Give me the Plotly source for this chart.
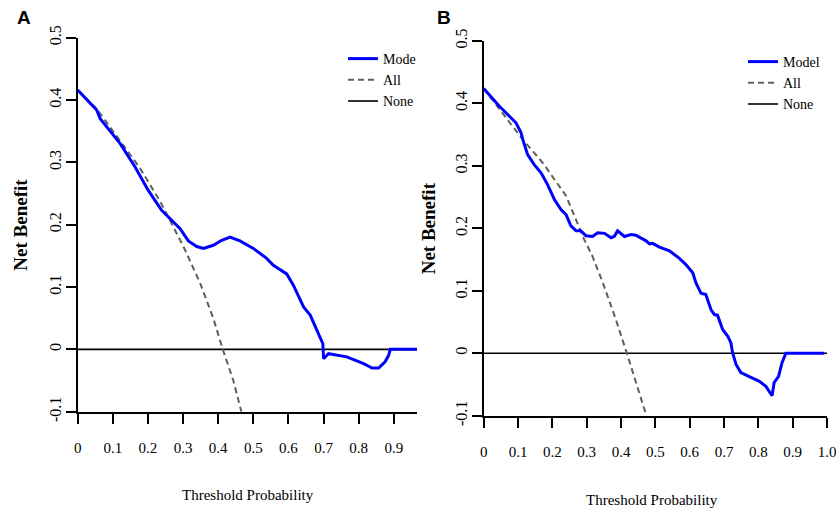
import plotly.graph_objects as go

W, H = 836, 510

# ---------------- Data ----------------
# Panel A
a_model_x = [0.0, 0.054, 0.064, 0.121, 0.163, 0.201, 0.239, 0.272, 0.291, 0.315, 0.339, 0.358,
             0.372, 0.386, 0.410, 0.434, 0.443, 0.462, 0.500, 0.519, 0.538, 0.557, 0.595, 0.614,
             0.643, 0.662, 0.681, 0.690, 0.698, 0.700, 0.714, 0.766, 0.814, 0.838, 0.857, 0.875,
             0.885, 0.890, 0.966]
a_model_y = [0.416, 0.384, 0.370, 0.330, 0.293, 0.255, 0.223, 0.204, 0.194, 0.174, 0.165, 0.162,
             0.165, 0.167, 0.175, 0.180, 0.178, 0.174, 0.162, 0.154, 0.146, 0.135, 0.121, 0.103,
             0.068, 0.055, 0.030, 0.020, 0.009, -0.015, -0.007, -0.012, -0.023, -0.030, -0.030, -0.020,
             -0.010, 0.0, 0.0]
a_all_x = [0.0, 0.054, 0.177, 0.234, 0.292, 0.306, 0.348, 0.386, 0.413, 0.443, 0.466]
a_all_y = [0.416, 0.386, 0.291, 0.238, 0.175, 0.159, 0.107, 0.050, 0.0, -0.050, -0.100]

# Panel B
b_model_x = [0.0, 0.045, 0.094, 0.109, 0.114, 0.128, 0.147, 0.167, 0.186, 0.206, 0.225, 0.240,
             0.254, 0.269, 0.283, 0.298, 0.317, 0.332, 0.352, 0.371, 0.380, 0.390, 0.410, 0.429,
             0.443, 0.473, 0.483, 0.492, 0.512, 0.541, 0.570, 0.589, 0.609, 0.618, 0.633, 0.647,
             0.662, 0.672, 0.681, 0.696, 0.711, 0.720, 0.725, 0.735, 0.749, 0.774, 0.803, 0.822,
             0.840, 0.846, 0.859, 0.869, 0.880, 0.992]
b_model_y = [0.424, 0.396, 0.369, 0.353, 0.342, 0.318, 0.302, 0.289, 0.270, 0.246, 0.230, 0.222,
             0.204, 0.196, 0.196, 0.188, 0.187, 0.193, 0.192, 0.185, 0.187, 0.196, 0.187, 0.190,
             0.189, 0.180, 0.175, 0.176, 0.170, 0.164, 0.152, 0.142, 0.129, 0.113, 0.096, 0.094,
             0.070, 0.062, 0.061, 0.038, 0.027, 0.017, 0.001, -0.018, -0.031, -0.037, -0.045, -0.053,
             -0.068, -0.047, -0.037, -0.015, 0.0, 0.0]
b_all_x = [0.0, 0.114, 0.172, 0.240, 0.293, 0.317, 0.347, 0.385, 0.417, 0.444, 0.474]
b_all_y = [0.424, 0.342, 0.305, 0.252, 0.182, 0.155, 0.113, 0.054, 0.0, -0.047, -0.100]

none_x = [0.0, 1.0]
none_y = [0.0, 0.0]

x_ticks_a = [0, 0.1, 0.2, 0.3, 0.4, 0.5, 0.6, 0.7, 0.8, 0.9]
x_labels_a = ["0", "0.1", "0.2", "0.3", "0.4", "0.5", "0.6", "0.7", "0.8", "0.9"]
x_ticks_b = [0, 0.1, 0.2, 0.3, 0.4, 0.5, 0.6, 0.7, 0.8, 0.9, 1.0]
x_labels_b = ["0", "0.1", "0.2", "0.3", "0.4", "0.5", "0.6", "0.7", "0.8", "0.9", "1.0"]
y_ticks = [-0.1, 0, 0.1, 0.2, 0.3, 0.4, 0.5]
y_labels = ["-0.1", "0", "0.1", "0.2", "0.3", "0.4", "0.5"]

# ---------------- Figure ----------------
SERIF = "Times New Roman, Liberation Serif, serif"
SANS = "Arial, Liberation Sans, sans-serif"
BLUE = "#0000FF"
GREY = "#5f5f5f"

fig = go.Figure()

def add_panel(xa, ya, legend, model_x, model_y, all_x, all_y, model_name):
    fig.add_trace(go.Scatter(x=none_x, y=none_y, mode="lines", name="None",
                             line=dict(color="black", width=1.6), xaxis=xa, yaxis=ya,
                             legend=legend, legendrank=3))
    fig.add_trace(go.Scatter(x=all_x, y=all_y, mode="lines", name="All",
                             line=dict(color=GREY, width=2, dash="6px,4px"), xaxis=xa, yaxis=ya,
                             legend=legend, legendrank=2))
    fig.add_trace(go.Scatter(x=model_x, y=model_y, mode="lines", name=model_name,
                             line=dict(color=BLUE, width=3), xaxis=xa, yaxis=ya,
                             legend=legend, legendrank=1))

add_panel("x", "y", "legend", a_model_x, a_model_y, a_all_x, a_all_y, "Mode")
add_panel("x2", "y2", "legend2", b_model_x, b_model_y, b_all_x, b_all_y, "Model")

def px_x(p):
    return p / W

def px_y(p):
    return 1 - p / H

axis_common = dict(showline=True, linecolor="black", linewidth=2, ticks="outside",
                   ticklen=10, tickwidth=1.6, tickcolor="black", showgrid=False,
                   zeroline=False, mirror=False, automargin=False, ticklabeloverflow="allow")

fig.update_layout(
    width=W, height=H,
    margin=dict(l=0, r=0, t=0, b=0, autoexpand=False),
    paper_bgcolor="white", plot_bgcolor="white",
    xaxis=dict(domain=[px_x(77.7), px_x(417)], range=[0, 0.966], tickvals=x_ticks_a,
               ticktext=x_labels_a, anchor="y", tickfont=dict(family=SERIF, size=15, color="black"),
               ticklabelstandoff=11, **axis_common),
    yaxis=dict(domain=[px_y(411.7), px_y(37.7)], range=[-0.1, 0.5], tickvals=y_ticks,
               ticktext=y_labels, anchor="x", tickangle=-90,
               tickfont=dict(family=SERIF, size=16, color="black"),
               ticklabelstandoff=-2, **axis_common),
    xaxis2=dict(domain=[px_x(483.7), px_x(827)], range=[0, 1.0], tickvals=x_ticks_b,
                ticktext=x_labels_b, anchor="y2", tickfont=dict(family=SERIF, size=15, color="black"),
                ticklabelstandoff=11, **axis_common),
    yaxis2=dict(domain=[px_y(415.7), px_y(41)], range=[-0.1, 0.5], tickvals=y_ticks,
                ticktext=y_labels, anchor="x2", tickangle=-90,
                tickfont=dict(family=SERIF, size=16, color="black"),
                ticklabelstandoff=-2, **axis_common),
    legend=dict(x=px_x(343), y=px_y(43), xanchor="left", yanchor="top",
                bgcolor="rgba(0,0,0,0)", font=dict(family=SERIF, size=14, color="black"),
                tracegroupgap=0, itemwidth=30),
    legend2=dict(x=px_x(743), y=px_y(46), xanchor="left", yanchor="top",
                 bgcolor="rgba(0,0,0,0)", font=dict(family=SERIF, size=14, color="black"),
                 tracegroupgap=0, itemwidth=30),
    showlegend=True,
)

annotations = [
    dict(text="<b>A</b>", x=px_x(24), y=px_y(18), font=dict(family=SANS, size=19, color="black")),
    dict(text="<b>B</b>", x=px_x(444), y=px_y(18), font=dict(family=SANS, size=19, color="black")),
    dict(text="<b>Net Benefit</b>", x=px_x(21), y=px_y(224.7), textangle=-90,
         font=dict(family=SERIF, size=19, color="black")),
    dict(text="<b>Net Benefit</b>", x=px_x(428), y=px_y(228.3), textangle=-90,
         font=dict(family=SERIF, size=19, color="black")),
    dict(text="Threshold Probability", x=px_x(248), y=px_y(495),
         font=dict(family=SERIF, size=15, color="black")),
    dict(text="Threshold Probability", x=px_x(652), y=px_y(500),
         font=dict(family=SERIF, size=15, color="black")),
]
for a in annotations:
    a.update(xref="paper", yref="paper", showarrow=False, xanchor="center", yanchor="middle")
fig.update_layout(annotations=annotations)

fig.write_html("out.html", config={"displayModeBar": False},
               post_script="document.body.style.margin='0px';document.body.style.overflow='hidden';")
